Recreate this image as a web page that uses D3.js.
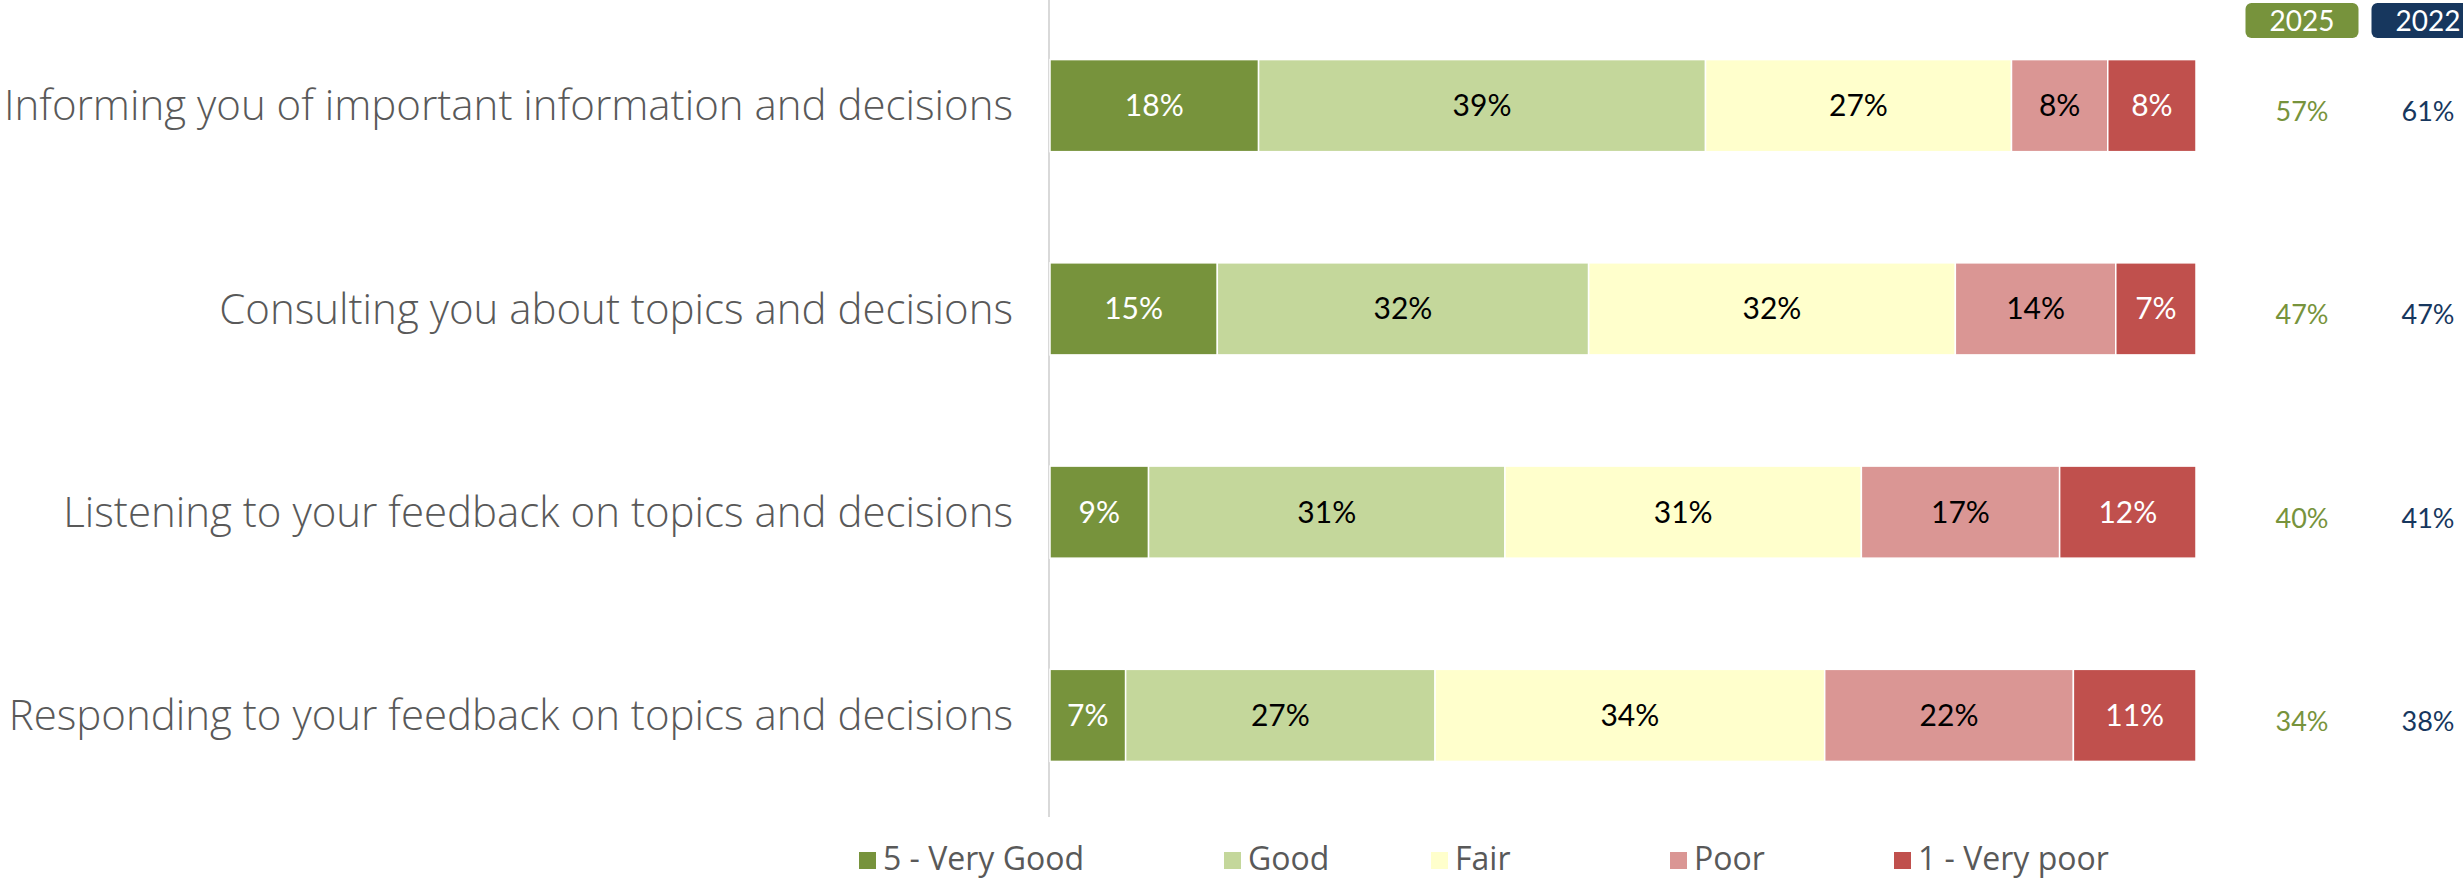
<!DOCTYPE html>
<html>
<head>
<meta charset="utf-8">
<script src="https://cdn.jsdelivr.net/npm/d3@7"></script>
<style>
  body { margin: 0; background: #fff; }
  svg { display: block; }
</style>
</head>
<body>
<div id="wrapper"></div>
<script>
// categories (top to bottom)
const categories = [
    "Informing you of important information and decisions",
    "Consulting you about topics and decisions",
    "Listening to your feedback on topics and decisions",
    "Responding to your feedback on topics and decisions"
];

// rating series, share of respondents in %
const seriesNames = ["5 - Very Good", "Good", "Fair", "Poor", "1 - Very poor"];
const veryGood = [18.2, 14.6, 8.6, 6.6];
const good     = [39.0, 32.4, 31.1, 27.0];
const fair     = [26.7, 32.0, 31.1, 34.0];
const poor     = [8.4, 14.0, 17.3, 21.7];
const veryPoor = [7.7, 7.0, 11.9, 10.7];

// summary columns (good + very good)
const years = ["2025", "2022"];
const score2025 = [57, 47, 40, 34];
const score2022 = [61, 47, 41, 38];

const seriesColors = ["#77933C", "#C4D79B", "#FFFFCC", "#DA9694", "#C0504D"];
const labelColors = ["#ffffff", "#000000", "#000000", "#000000", "#ffffff"];
const yearColors = ["#77933C", "#17375E"];

const width = 2463, height = 879;

const table = categories.map((c, i) => ({
    category: c,
    "5 - Very Good": veryGood[i],
    "Good": good[i],
    "Fair": fair[i],
    "Poor": poor[i],
    "1 - Very poor": veryPoor[i]
}));

const stacked = d3.stack().keys(seriesNames)(table);

const svg = d3.select("#wrapper").append("svg")
    .attr("width", width)
    .attr("height", height);

const x = d3.scaleLinear().domain([0, 100]).range([1050, 2196]);
const y = d3.scaleBand().domain(categories).range([4, 817])
    .paddingInner(0.547).paddingOuter(0.2735);

// vertical axis line
svg.append("line")
    .attr("x1", x(0) - 1).attr("x2", x(0) - 1)
    .attr("y1", 0).attr("y2", 817)
    .attr("stroke", "#d9d9d9").attr("stroke-width", 2);

// category labels
svg.append("g")
    .selectAll("text")
    .data(categories)
    .join("text")
    .attr("x", 1013)
    .attr("y", d => y(d) + y.bandwidth() / 2)
    .attr("dy", "0.35em")
    .attr("text-anchor", "end")
    .attr("font-family", "'Open Sans', sans-serif")
    .attr("font-weight", 300)
    .attr("font-size", 42)
    .attr("fill", "#595959")
    .text(d => d);

// bars
const layers = svg.append("g")
    .selectAll("g")
    .data(stacked)
    .join("g")
    .attr("fill", (d, i) => seriesColors[i]);

layers.selectAll("rect")
    .data(d => d)
    .join("rect")
    .attr("x", d => x(d[0]))
    .attr("y", d => y(d.data.category))
    .attr("width", d => x(d[1]) - x(d[0]))
    .attr("height", y.bandwidth())
    .attr("stroke", "#ffffff")
    .attr("stroke-width", 1.5);

const fmt = d => Math.round(d) + "%";

layers.each(function(layer, li) {
    d3.select(this).selectAll("text")
        .data(layer)
        .join("text")
        .attr("x", d => (x(d[0]) + x(d[1])) / 2)
        .attr("y", d => y(d.data.category) + y.bandwidth() / 2)
        .attr("dy", "0.35em")
        .attr("text-anchor", "middle")
        .attr("font-family", "Lato, sans-serif")
        .attr("font-size", 30)
        .attr("fill", labelColors[li])
        .text(d => fmt(d[1] - d[0]));
});

// year columns
const colX = d3.scaleOrdinal().domain(years).range([2302, 2428]);
const boxW = 113, boxH = 35;

const heads = svg.append("g")
    .selectAll("g")
    .data(years)
    .join("g");

heads.append("rect")
    .attr("x", d => colX(d) - boxW / 2)
    .attr("y", 3)
    .attr("width", boxW)
    .attr("height", boxH)
    .attr("rx", 6)
    .attr("fill", (d, i) => yearColors[i]);

heads.append("text")
    .attr("x", d => colX(d))
    .attr("y", 3 + boxH / 2)
    .attr("dy", "0.36em")
    .attr("text-anchor", "middle")
    .attr("font-family", "Lato, sans-serif")
    .attr("font-size", 28)
    .attr("fill", "#ffffff")
    .text(d => d);

[score2025, score2022].forEach((vals, yi) => {
    svg.append("g")
        .selectAll("text")
        .data(vals)
        .join("text")
        .attr("x", colX(years[yi]))
        .attr("y", (d, i) => y(categories[i]) + y.bandwidth() / 2 + 6)
        .attr("dy", "0.35em")
        .attr("text-anchor", "middle")
        .attr("font-family", "Lato, sans-serif")
        .attr("font-size", 27)
        .attr("fill", yearColors[yi])
        .text(d => d + "%");
});

// legend
const legendX = [859, 1224, 1431, 1670, 1894];
const legend = svg.append("g")
    .selectAll("g")
    .data(seriesNames)
    .join("g")
    .attr("transform", (d, i) => `translate(${legendX[i]},860)`);

legend.append("rect")
    .attr("x", 0).attr("y", -8)
    .attr("width", 17).attr("height", 17)
    .attr("fill", (d, i) => seriesColors[i]);

legend.append("text")
    .attr("x", 24)
    .attr("y", 10)
    .attr("font-family", "'Open Sans', sans-serif")
    .attr("font-size", 32)
    .attr("fill", "#595959")
    .text(d => d);
</script>
</body>
</html>
